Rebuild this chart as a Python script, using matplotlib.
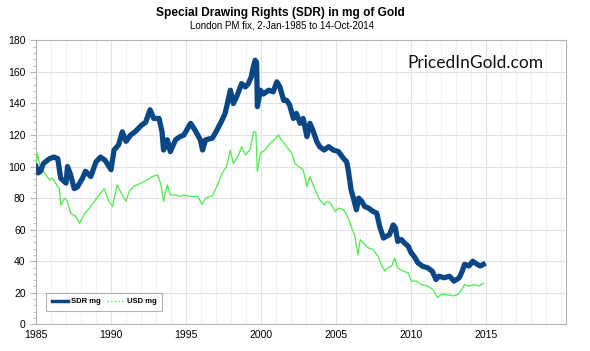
import matplotlib.pyplot as plt
from matplotlib.lines import Line2D
from matplotlib.ticker import MultipleLocator, FixedLocator

# SDR priced in mg of gold
sdr_year = [1985.0, 1985.15, 1985.3, 1985.5, 1985.9, 1986.2, 1986.45, 1986.65, 1987.0, 1987.1,
            1987.3, 1987.55, 1987.75, 1988.1, 1988.3, 1988.65, 1989.0, 1989.3, 1989.6, 1990.0,
            1990.2, 1990.5, 1990.75, 1991.0, 1991.3, 1991.6, 1992.0, 1992.3, 1992.6, 1992.85,
            1993.2, 1993.4, 1993.5, 1993.75, 1993.95, 1994.3, 1994.6, 1994.85, 1995.3, 1995.6,
            1995.95, 1996.1, 1996.3, 1996.75, 1997.05, 1997.4, 1997.6, 1997.8, 1997.95, 1998.15,
            1998.4, 1998.7, 1998.95, 1999.15, 1999.35, 1999.45, 1999.6, 1999.7, 1999.75, 1999.95,
            2000.15, 2000.5, 2000.8, 2001.05, 2001.25, 2001.5, 2001.7, 2001.9, 2002.15, 2002.35,
            2002.6, 2002.8, 2003.05, 2003.25, 2003.45, 2003.7, 2003.9, 2004.2, 2004.5, 2004.8,
            2005.15, 2005.5, 2005.7, 2005.8, 2006.0, 2006.15, 2006.35, 2006.5, 2006.7, 2006.9,
            2007.15, 2007.45, 2007.7, 2007.9, 2008.15, 2008.35, 2008.55, 2008.8, 2008.95, 2009.1,
            2009.35, 2009.55, 2009.8, 2010.0, 2010.2, 2010.45, 2010.75, 2011.1, 2011.4, 2011.65,
            2011.85, 2012.2, 2012.55, 2012.85, 2013.2, 2013.4, 2013.55, 2013.85, 2014.1, 2014.4,
            2014.6, 2014.8]
sdr_mg = [100, 96, 97, 102, 105, 106, 105, 92.6, 89.5, 100,
          95, 86, 87, 92.6, 97, 93.7, 103, 106, 104, 98,
          110.5, 113.7, 122, 116, 120, 122, 126, 128, 136, 130.5,
          130.5, 122, 110.5, 117, 109.5, 117, 119, 120, 127.4, 123,
          117, 110.5, 117, 118, 123, 129.5, 133.7, 142, 148.4, 140,
          145, 152.6, 150.5, 152.6, 157, 162, 167.4, 166, 138, 148.4,
          146, 148.4, 147.4, 153.7, 150.5, 142, 142, 139, 130.5, 133.7,
          127.4, 130.5, 119, 127.4, 123, 116, 112.6, 110.5, 112.6, 110.5,
          109.5, 105, 103, 98, 85, 80, 72.6, 80, 78, 74.7,
          73.7, 71.6, 70.5, 62, 54.7, 55.8, 56.8, 63, 61, 52.6,
          53.7, 51.6, 49.5, 45.3, 43, 39, 36.8, 35.8, 33.7, 28.4,
          30.5, 29.5, 30.5, 27.4, 29.5, 33.7, 38, 37, 40, 38,
          37, 38]

# USD priced in mg of gold
usd_year = [1985.0, 1985.1, 1985.3, 1985.65, 1985.9, 1986.1, 1986.3, 1986.55, 1986.65, 1986.9,
            1987.1, 1987.3, 1987.65, 1987.9, 1988.2, 1988.55, 1988.9, 1989.2, 1989.55, 1989.85,
            1990.1, 1990.4, 1990.75, 1991.0, 1991.2, 1991.5, 1992.0, 1992.4, 1992.75, 1993.1,
            1993.3, 1993.5, 1993.75, 1993.95, 1994.3, 1994.6, 1994.85, 1995.4, 1995.8, 1996.05,
            1996.3, 1996.75, 1997.05, 1997.4, 1997.7, 1997.95, 1998.15, 1998.5, 1998.7, 1998.95,
            1999.25, 1999.5, 1999.65, 1999.75, 1999.95, 2000.25, 2000.6, 2000.9, 2001.15, 2001.35,
            2001.7, 2002.05, 2002.25, 2002.5, 2002.8, 2003.05, 2003.25, 2003.6, 2003.9, 2004.2,
            2004.4, 2004.6, 2004.95, 2005.15, 2005.5, 2005.8, 2006.0, 2006.25, 2006.45, 2006.6,
            2006.8, 2007.15, 2007.45, 2007.8, 2008.0, 2008.25, 2008.45, 2008.7, 2008.9, 2009.1,
            2009.45, 2009.8, 2010.0, 2010.35, 2010.65, 2011.1, 2011.45, 2011.75, 2012.0, 2012.3,
            2012.65, 2012.85, 2013.1, 2013.3, 2013.55, 2013.85, 2014.2, 2014.5, 2014.8]
usd_mg = [101, 108, 99, 95, 91.6, 92.6, 89.5, 86, 75.6, 80,
          78, 70.5, 68.4, 64, 69.5, 73.7, 78, 82, 86, 78,
          74.7, 88.4, 82, 78, 84, 87.4, 89.5, 91.6, 93.7, 94.7,
          89.5, 78, 88.4, 82, 82, 81, 82, 81, 81, 76,
          80, 81.5, 87.4, 95.8, 100, 110.5, 102, 107.4, 112.6, 107.4,
          110.5, 122, 122, 97, 108.4, 110.5, 114.7, 117, 120, 117,
          112.6, 108.4, 102, 100, 98, 87.4, 93.7, 85, 79, 75.8,
          78, 77, 71.6, 73.7, 72.6, 67.4, 62, 55.8, 44, 53.7,
          51.6, 48.4, 47.4, 43, 38, 33.7, 35.8, 37, 42, 35.8,
          33.7, 32.6, 27.4, 27.4, 25.3, 24.2, 22, 17, 19, 19,
          18.3, 18, 19, 21, 25.3, 24.2, 25.3, 24.2, 26]

year_ticks = [1985, 1990, 1995, 2000, 2005, 2010, 2015]

blue = "#0b4785"
green = "#4cec4c"

plt.rcParams['font.family'] = ['Liberation Sans', 'DejaVu Sans']

fig = plt.figure(figsize=(5.9, 3.51), dpi=100)
ax = fig.add_axes([0.061, 0.076, 0.898, 0.809])

ax.plot(usd_year, usd_mg, color=green, lw=0.9, zorder=3)
ax.plot(sdr_year, sdr_mg, color=blue, lw=3.8, zorder=4)

ax.set_xlim(1985, 2020.3)
ax.set_ylim(0, 180)
ax.xaxis.set_major_locator(FixedLocator(year_ticks))
ax.xaxis.set_minor_locator(MultipleLocator(1))
ax.yaxis.set_major_locator(MultipleLocator(20))
ax.yaxis.set_minor_locator(MultipleLocator(4))
ax.grid(which='major', color='#e2e2e6', lw=0.8)
ax.grid(which='minor', axis='x', color='#f0f0f6', lw=0.8)
ax.axvline(2020, color='#e2e2e6', lw=0.8, zorder=0)
ax.set_axisbelow(True)
for s in ax.spines.values():
    s.set_color('#b4b4b4')
ax.tick_params(which='both', colors='#b4b4b4', labelcolor='black', labelsize=7.5)
ax.tick_params(axis='y', which='major', length=4)
ax.tick_params(axis='y', which='minor', length=2.5)
ax.tick_params(axis='x', which='both', length=0, pad=4)

handles = [Line2D([], [], color=blue, lw=2.5), Line2D([], [], color=green, lw=1, ls=':')]
leg = ax.legend(handles, ['SDR mg', 'USD mg'], loc='lower left', bbox_to_anchor=(0.012, 0.035),
                ncol=2, frameon=True, fancybox=False, handlelength=2.2,
                columnspacing=0.8, handletextpad=0.4, borderpad=0.7,
                prop={'weight': 'bold', 'size': 5.5})
leg.get_frame().set_edgecolor('#a0a0a0')
leg.get_frame().set_linewidth(0.8)

fig.text(0.476, 0.963, 'Special Drawing Rights (SDR) in mg of Gold', ha='center', va='center',
         fontsize=8.6, fontweight='bold')
fig.text(0.478, 0.927, 'London PM fix, 2-Jan-1985 to 14-Oct-2014', ha='center', va='center',
         fontsize=7.0)
fig.text(0.805, 0.82, 'PricedInGold.com', ha='center', va='center', fontsize=12.5,
         family=['Lato', 'DejaVu Sans'], color='#111111')

fig.savefig('out.png', dpi=100)
